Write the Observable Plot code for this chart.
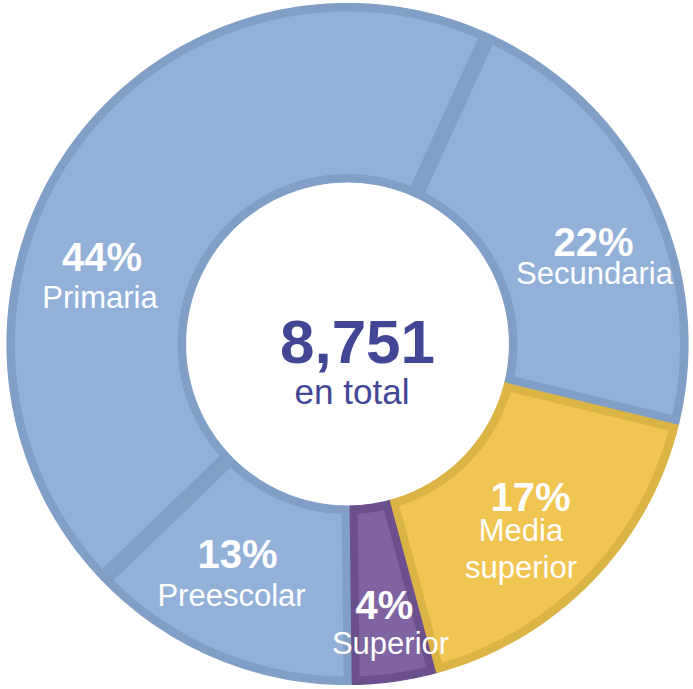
<!DOCTYPE html>
<html>
<head>
<meta charset="utf-8">
<script src="https://cdn.jsdelivr.net/npm/d3@7"></script>
<script src="https://cdn.jsdelivr.net/npm/@observablehq/plot@0.6"></script>
<style>
  html, body { margin: 0; padding: 0; background: #ffffff; }
  #chart svg { display: block; }
</style>
</head>
<body>
<div id="chart"></div>
<script>
// ---- data ----
const categories = ["Secundaria", "Media superior", "Superior", "Preescolar", "Primaria"];
const shares = [22, 17, 4, 13, 44];           // percent of total
const displayNames = ["Secundaria", "Media\nsuperior", "Superior", "Preescolar", "Primaria"];
const total = 8751;
const totalCaption = "en total";

// ---- style ----
const fills   = ["#93b1d8", "#f0c551", "#8063a1", "#93b1d8", "#93b1d8"];
const borders = ["#819ec6", "#dbb446", "#6c508d", "#819ec6", "#819ec6"];
const FONT = "Liberation Sans, Arial, Helvetica, sans-serif";

// ---- layout ----
const W = 693, H = 689;
const CX = 347, CY = 343.5;
const R_OUT = 340.5, R_IN = 162, EDGE = 8;
const START_DEG = 24.5;
// label anchor offsets (pixels from centre): [pctX, pctY, nameX, nameY]
const labelLayout = {
  "Secundaria":     [246, -88.5, 247, -60.5],
  "Media superior": [183, 166.5, 173.5, 233.5],
  "Superior":       [37, 274.5, 43, 309.5],
  "Preescolar":     [-110, 223.5, -116, 261.5],
  "Primaria":       [-245.5, -73.5, -247.5, -36.5]
};
const centreLayout = { total: [10, 18.5], caption: [4.5, 59.5] };

const rows = categories.map((c, i) => ({
  category: c, share: shares[i], name: displayNames[i], fill: fills[i], border: borders[i]
}));

const start = START_DEG * Math.PI / 180;
const arcs = d3.pie().sort(null).value(d => d.share)
  .startAngle(start).endAngle(start + 2 * Math.PI)(rows);

function ringPolygon(key, color, a0, a1, r0, r1, inset) {
  const ro = r1 - inset, ri = r0 + inset;
  const pts = [];
  const n = Math.max(6, Math.ceil((a1 - a0) / (2 * Math.PI) * 360));
  const ao0 = a0 + (inset ? Math.asin(inset / ro) : 0);
  const ao1 = a1 - (inset ? Math.asin(inset / ro) : 0);
  for (let k = 0; k <= n; k++) {
    const a = ao0 + (ao1 - ao0) * k / n;
    pts.push({ key, color, x: Math.sin(a) * ro, y: -Math.cos(a) * ro });
  }
  const ai0 = a0 + (inset ? Math.asin(inset / ri) : 0);
  const ai1 = a1 - (inset ? Math.asin(inset / ri) : 0);
  for (let k = n; k >= 0; k--) {
    const a = ai0 + (ai1 - ai0) * k / n;
    pts.push({ key, color, x: Math.sin(a) * ri, y: -Math.cos(a) * ri });
  }
  return pts;
}

const outerPolys = arcs.flatMap(a =>
  ringPolygon(a.data.category + "-o", a.data.border, a.startAngle, a.endAngle, R_IN, R_OUT, 0));
const innerPolys = arcs.flatMap(a =>
  ringPolygon(a.data.category + "-i", a.data.fill, a.startAngle, a.endAngle, R_IN, R_OUT, EDGE));

const pctLabels = rows.map(d => ({
  x: labelLayout[d.category][0], y: labelLayout[d.category][1], text: `${d.share}%`
}));
const nameLabels = rows.map(d => ({
  x: labelLayout[d.category][2], y: labelLayout[d.category][3], text: d.name
}));
const centre = [
  { x: centreLayout.total[0], y: centreLayout.total[1], text: d3.format(",")(total) }
];
const centreCap = [
  { x: centreLayout.caption[0], y: centreLayout.caption[1], text: totalCaption }
];

const chart = Plot.plot({
  width: W,
  height: H,
  margin: 0,
  x: { domain: [-CX, W - CX], range: [0, W], axis: null },
  y: { domain: [-CY, H - CY], range: [0, H], axis: null },
  color: { type: "identity" },
  style: { background: "#ffffff", fontFamily: FONT },
  marks: [
    Plot.line(outerPolys, {
      x: "x", y: "y", z: "key", fill: "color", stroke: "color", strokeWidth: 1.2,
      strokeLinejoin: "round", curve: "linear"
    }),
    Plot.line(innerPolys, { x: "x", y: "y", z: "key", fill: "color", stroke: "none", curve: "linear" }),
    Plot.text(pctLabels, {
      x: "x", y: "y", text: "text", fill: "#ffffff", fontSize: 40, fontWeight: "bold",
      fontFamily: FONT, lineAnchor: "bottom", textAnchor: "middle"
    }),
    Plot.text(nameLabels, {
      x: "x", y: "y", text: "text", fill: "#ffffff", fontSize: 31,
      fontFamily: FONT, lineAnchor: "bottom", textAnchor: "middle", lineHeight: 1.19
    }),
    Plot.text(centre, {
      x: "x", y: "y", text: "text", fill: "#414794", fontSize: 62, fontWeight: "bold",
      fontFamily: FONT, lineAnchor: "bottom", textAnchor: "middle"
    }),
    Plot.text(centreCap, {
      x: "x", y: "y", text: "text", fill: "#414794", fontSize: 35,
      fontFamily: FONT, lineAnchor: "bottom", textAnchor: "middle"
    })
  ]
});
document.getElementById("chart").appendChild(chart);
</script>
</body>
</html>
